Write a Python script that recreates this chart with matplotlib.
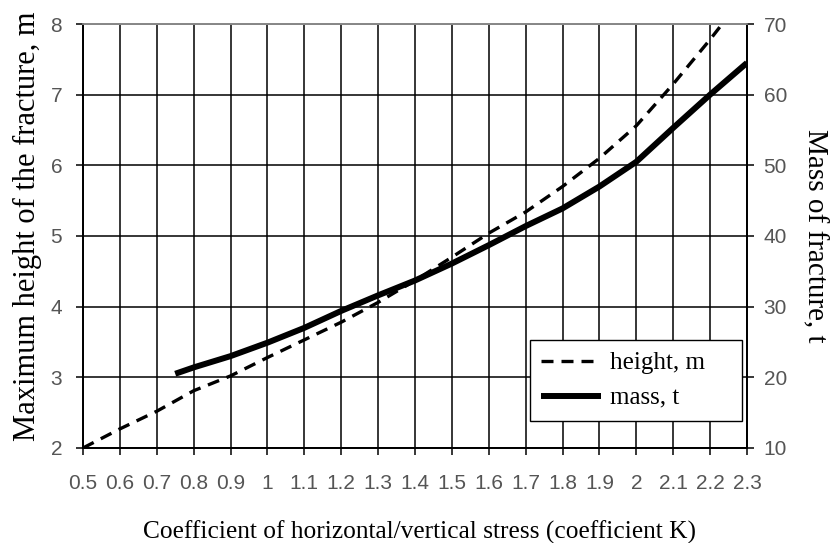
import matplotlib
matplotlib.use('Agg')
import matplotlib.pyplot as plt
from matplotlib.ticker import MultipleLocator

# coefficient K and the two curves
k_height = [0.5, 0.6, 0.7, 0.8, 0.9, 1.0, 1.1, 1.2, 1.3, 1.4,
            1.5, 1.6, 1.7, 1.8, 1.9, 2.0, 2.1, 2.2, 2.3]
height_m = [2.00, 2.27, 2.52, 2.81, 3.02, 3.28, 3.53, 3.78, 4.06, 4.37,
            4.70, 5.04, 5.34, 5.70, 6.10, 6.56, 7.15, 7.78, 8.45]

k_mass = [0.75, 0.8, 0.9, 1.0, 1.1, 1.2, 1.3, 1.4, 1.5, 1.6,
          1.7, 1.8, 1.9, 2.0, 2.1, 2.2, 2.3]
mass_t = [20.5, 21.4, 23.0, 24.9, 27.0, 29.4, 31.6, 33.7, 36.1, 38.7,
          41.4, 43.9, 47.0, 50.5, 55.3, 60.0, 64.5]

x_ticks = [0.5, 0.6, 0.7, 0.8, 0.9, 1, 1.1, 1.2, 1.3, 1.4, 1.5,
           1.6, 1.7, 1.8, 1.9, 2, 2.1, 2.2, 2.3]
x_tick_labels = ['0.5', '0.6', '0.7', '0.8', '0.9', '1', '1.1', '1.2', '1.3',
                 '1.4', '1.5', '1.6', '1.7', '1.8', '1.9', '2', '2.1', '2.2', '2.3']

serif = 'Liberation Serif'
sans = 'Liberation Sans'
tick_col = '#555555'

fig = plt.figure(figsize=(8.36, 5.43), dpi=100)
ax = fig.add_axes([0.0993, 0.175, 0.7942, 0.7808])
ax2 = ax.twinx()

ln1, = ax.plot(k_height, height_m, color='black', lw=2.4,
               linestyle=(0, (3.6, 2.4)), label='height, m')
ln2, = ax2.plot(k_mass, mass_t, color='black', lw=4.3,
                solid_capstyle='butt', label='mass, t')

ax.set_xlim(0.5, 2.3)
ax.set_ylim(2, 8)
ax2.set_ylim(10, 70)

ax.set_xticks(x_ticks)
ax.set_xticklabels(x_tick_labels)
ax.yaxis.set_major_locator(MultipleLocator(1))
ax2.yaxis.set_major_locator(MultipleLocator(10))

ax.grid(True, color='black', lw=1.1)
ax.set_axisbelow(True)

for a in (ax, ax2):
	a.tick_params(length=5, width=1.1, color='black', labelcolor=tick_col,
				  labelsize=15, pad=10)
	for lab in a.get_xticklabels() + a.get_yticklabels():
		lab.set_fontfamily(sans)
	for s in a.spines.values():
		s.set_color('black')
		s.set_linewidth(1.3)
	a.spines['top'].set_color('#888888')
ax.tick_params(axis='x', pad=14)
ax2.tick_params(axis='y', pad=7)

#Axis titles, placed by hand to match the original
ax.set_xlabel('Coefficient of horizontal/vertical stress (coefficient K)',
			  family=serif, fontsize=18.3, va='center')
ax.xaxis.set_label_coords(0.5075, -0.198)
ax.set_ylabel('Maximum height of the fracture, m', family=serif,
			  fontsize=22, va='center')
ax.yaxis.set_label_coords(-0.084, 0.524)
ax2.set_ylabel('Mass of fracture, t', family=serif, fontsize=21,
			   rotation=270, va='center')
ax2.yaxis.set_label_coords(1.102, 0.5)

#Legend box stretched to the width of the original one
leg = ax2.legend(handles=[ln1, ln2], loc='lower left', mode='expand',
				 bbox_to_anchor=(0.673, 0.0637, 0.319, 0.203),
				 prop={'family': serif, 'size': 18},
				 frameon=True, fancybox=False, framealpha=1,
				 edgecolor='black', handlelength=2.4, handletextpad=0.35,
				 labelspacing=0.5, borderpad=0.46, borderaxespad=0)
leg.get_frame().set_linewidth(1.0)

plt.savefig('out.png', dpi=100)
